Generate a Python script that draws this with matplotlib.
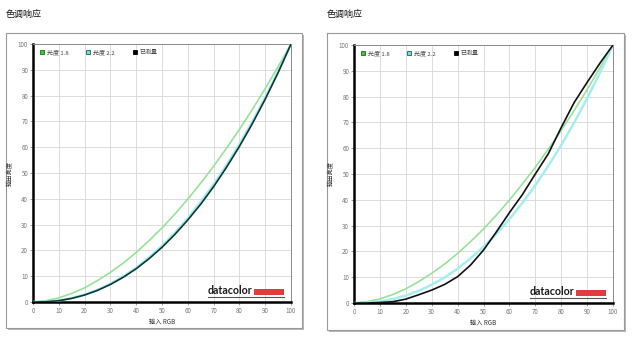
import numpy as np
import matplotlib
matplotlib.use('Agg')
import matplotlib.pyplot as plt
from matplotlib.patches import Rectangle
from matplotlib.lines import Line2D

plt.rcParams['font.family'] = ['Noto Sans CJK SC', 'DejaVu Sans']

# data (every 5 input units)
rgb_in = [0, 5, 10, 15, 20, 25, 30, 35, 40, 45, 50, 55, 60, 65, 70, 75, 80, 85, 90, 95, 100]
gamma_18 = [0, 0.5, 1.6, 3.3, 5.5, 8.3, 11.5, 15.1, 19.2, 23.8, 28.7, 34.1, 39.9, 46.1,
            52.6, 59.6, 66.9, 74.6, 82.7, 91.2, 100]
gamma_22 = [0, 0.1, 0.6, 1.5, 2.9, 4.7, 7.1, 9.9, 13.3, 17.3, 21.8, 26.8, 32.5, 38.8,
            45.6, 53.1, 61.2, 69.9, 79.3, 89.3, 100]
measured_left = [0, 0.1, 0.5, 1.4, 2.7, 4.5, 6.8, 9.6, 12.9, 16.8, 21.2, 26.2, 31.8, 37.9,
                 44.7, 52.2, 60.3, 69.1, 78.6, 88.9, 100]
measured_right = [0, 0, 0.2, 0.5, 1.5, 3.2, 5.0, 7.2, 10.2, 14.7, 20.5, 27.6, 35.0, 42.0,
                  50.0, 57.8, 68.0, 77.7, 85.5, 93.0, 100]
ticks = [0, 10, 20, 30, 40, 50, 60, 70, 80, 90, 100]

title = '色调响应'
legend_labels = ['光度 1.8', '光度 2.2', '已测量']
xlabel = '输入 RGB'
ylabel = '输出亮度'

W, H = 640, 341
fig = plt.figure(figsize=(6.4, 3.41), dpi=100)
fig.patch.set_facecolor('white')


def px(x0, y0, x1, y1):
    # pixel box (top-left origin) -> figure fraction rect
    return [x0 / W, (H - y1) / H, (x1 - x0) / W, (y1 - y0) / H]


def panel(box, axbox, measured, meas_color, title_x):
    bx0, by0, bx1, by1 = box
    # shadow + frame
    fig.patches.append(Rectangle(((bx0 + 2) / W, (H - by1 - 2) / H), (bx1 - bx0) / W, (by1 - by0) / H,
                                 transform=fig.transFigure, facecolor='#b8b8b8', edgecolor='none', zorder=-2))
    fig.patches.append(Rectangle((bx0 / W, (H - by1) / H), (bx1 - bx0) / W, (by1 - by0) / H,
                                 transform=fig.transFigure, facecolor='white', edgecolor='#9a9a9a',
                                 linewidth=0.8, zorder=-1))
    fig.text(title_x / W, 1 - 15 / H, title, fontsize=6.5, color='#111111', va='center', ha='left')

    ax = fig.add_axes(px(*axbox))
    ax.set_zorder(1)
    ax.set_xlim(0, 100)
    ax.set_ylim(0, 100)
    ax.set_xticks(ticks)
    ax.set_yticks(ticks)
    ax.grid(True, color='#dcdcdc', linewidth=0.7)
    ax.set_axisbelow(True)
    for s in ['left', 'bottom']:
        ax.spines[s].set_linewidth(1.8)
        ax.spines[s].set_color('black')
    for s in ['top', 'right']:
        ax.spines[s].set_linewidth(0.7)
        ax.spines[s].set_color('#8a8a8a')
    ax.tick_params(length=2.5, width=0.5, color='#777777', labelsize=4.5, labelcolor='#777777', pad=1)

    ax.plot(rgb_in, gamma_18, color='#98e298', linewidth=1.2, zorder=2)
    ax.plot(rgb_in, gamma_22, color='#a6eeee', linewidth=1.8, zorder=3)
    ax.plot(rgb_in, measured, color=meas_color, linewidth=1.2, zorder=4)

    ax.set_xlabel(xlabel, fontsize=4.5, color='#333333', labelpad=2)
    ax.set_ylabel(ylabel, fontsize=4.5, color='#333333', labelpad=3)

    handles = [Line2D([], [], linestyle='none', marker='s', markersize=3.5, markerfacecolor='#33cc33',
                      markeredgecolor='#1d6d1d', markeredgewidth=0.6),
               Line2D([], [], linestyle='none', marker='s', markersize=3.5, markerfacecolor='#6fe0e0',
                      markeredgecolor='#1d5d5d', markeredgewidth=0.6),
               Line2D([], [], linestyle='none', marker='s', markersize=3.5, markerfacecolor='black',
                      markeredgecolor='black', markeredgewidth=0.6)]
    leg = ax.legend(handles, legend_labels, loc='upper left', ncol=3, frameon=False, fontsize=4.3,
                    handlelength=0.8, handletextpad=0.4, columnspacing=2.9,
                    bbox_to_anchor=(0.005, 1.0), borderaxespad=0.5)
    for t in leg.get_texts():
        t.set_color('#444444')

    # datacolor logo
    ax.text(67.8, 2.2, 'datacolor', fontsize=7.7, fontweight='bold', family='Lato', color='#1a1a1a',
            ha='left', va='bottom', zorder=6)
    ax.add_patch(Rectangle((85.6, 2.6), 11.8, 2.4, facecolor='#e03c3c', edgecolor='none', zorder=6))
    ax.plot([67.8, 97.4], [2.0, 2.0], color='#555555', linewidth=0.8, zorder=6)
    return ax


panel((6, 33, 302, 328), (33, 44, 291, 302), measured_left, '#0c3535', 6)
panel((327, 33, 624, 330), (354, 45, 613, 303), measured_right, '#111111', 327)

fig.savefig('out.png', dpi=100, facecolor='white')
